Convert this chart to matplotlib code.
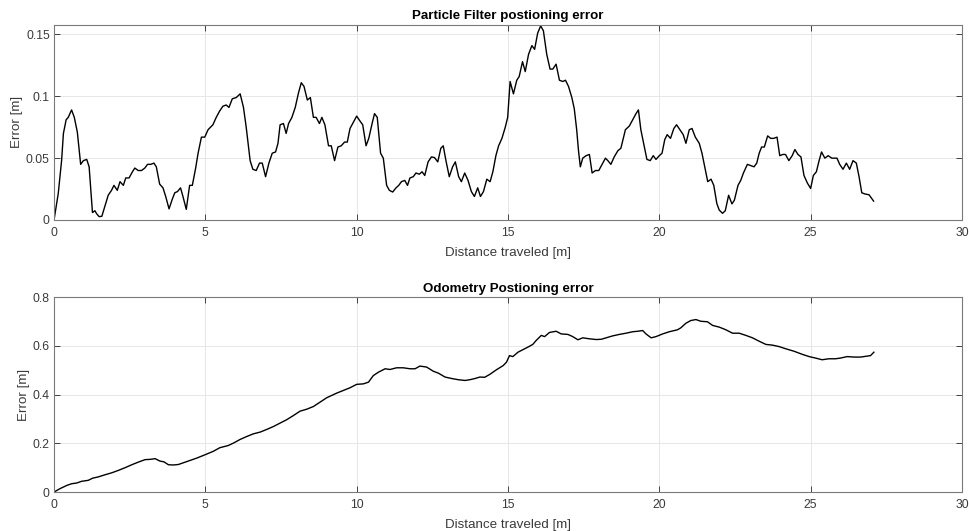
import numpy as np
import matplotlib.pyplot as plt

plt.rcParams['font.family'] = ['Liberation Sans', 'DejaVu Sans']

# particle filter error
pf_x = [0, 0.14, 0.25, 0.31, 0.4, 0.47, 0.58, 0.67, 0.77, 0.88, 0.97, 1.08, 1.16, 1.27, 1.35, 1.41,
        1.49, 1.58, 1.68, 1.79, 1.9, 1.98, 2.09, 2.18, 2.29, 2.37, 2.48, 2.59, 2.67, 2.78, 2.89, 3.0,
        3.09, 3.2, 3.3, 3.38, 3.49, 3.6, 3.69, 3.8, 3.91, 3.99, 4.08, 4.18, 4.26, 4.37, 4.48, 4.57,
        4.68, 4.76, 4.87, 4.98, 5.09, 5.25, 5.36, 5.47, 5.58, 5.69, 5.78, 5.89, 6.02, 6.15, 6.26,
        6.35, 6.48, 6.57, 6.68, 6.79, 6.88, 6.99, 7.1, 7.21, 7.32, 7.4, 7.47, 7.58, 7.67, 7.75,
        7.86, 7.97, 8.08, 8.17, 8.26, 8.37, 8.47, 8.57, 8.66, 8.77, 8.85, 8.95, 9.07, 9.16, 9.27,
        9.38, 9.49, 9.6, 9.69, 9.78, 9.89, 10.0, 10.11, 10.2, 10.31, 10.4, 10.51, 10.59, 10.68,
        10.79, 10.88, 10.99, 11.08, 11.19, 11.3, 11.39, 11.48, 11.59, 11.68, 11.76, 11.87, 11.96,
        12.07, 12.16, 12.25, 12.36, 12.47, 12.57, 12.68, 12.78, 12.86, 12.95, 13.06, 13.17, 13.26,
        13.37, 13.46, 13.57, 13.68, 13.79, 13.89, 14.0, 14.09, 14.19, 14.3, 14.41, 14.5, 14.6,
        14.69, 14.8, 14.91, 14.99, 15.07, 15.18, 15.29, 15.37, 15.48, 15.57, 15.68, 15.79, 15.88,
        15.98, 16.08, 16.17, 16.28, 16.39, 16.48, 16.59, 16.7, 16.81, 16.9, 17.0, 17.11, 17.19,
        17.27, 17.33, 17.39, 17.47, 17.58, 17.69, 17.78, 17.89, 18.0, 18.11, 18.22, 18.3, 18.4,
        18.51, 18.63, 18.73, 18.88, 19.01, 19.12, 19.23, 19.31, 19.39, 19.48, 19.59, 19.7, 19.8,
        19.89, 20.0, 20.09, 20.18, 20.26, 20.37, 20.48, 20.57, 20.68, 20.79, 20.88, 20.99, 21.08,
        21.19, 21.32, 21.41, 21.5, 21.6, 21.71, 21.8, 21.9, 21.98, 22.09, 22.18, 22.29, 22.4,
        22.48, 22.6, 22.69, 22.78, 22.91, 23.02, 23.13, 23.22, 23.3, 23.38, 23.47, 23.58, 23.68,
        23.78, 23.89, 23.98, 24.08, 24.17, 24.28, 24.39, 24.48, 24.58, 24.68, 24.78, 24.89, 25.0,
        25.09, 25.19, 25.28, 25.36, 25.47, 25.58, 25.7, 25.87, 25.96, 26.07, 26.18, 26.29, 26.4,
        26.51, 26.6, 26.69, 26.8, 26.93, 27.08]
pf_err = [0, 0.0215, 0.048, 0.070, 0.081, 0.083, 0.089, 0.083, 0.071, 0.045, 0.048, 0.049, 0.043,
          0.006, 0.0075, 0.005, 0.0027, 0.003, 0.011, 0.020, 0.024, 0.028, 0.024, 0.031, 0.028,
          0.034, 0.034, 0.039, 0.042, 0.040, 0.040, 0.042, 0.045, 0.045, 0.046, 0.043, 0.029,
          0.026, 0.019, 0.009, 0.017, 0.022, 0.023, 0.026, 0.019, 0.0086, 0.028, 0.028, 0.042,
          0.054, 0.067, 0.067, 0.073, 0.077, 0.083, 0.088, 0.092, 0.093, 0.091, 0.098, 0.099,
          0.102, 0.091, 0.075, 0.048, 0.041, 0.040, 0.046, 0.046, 0.035, 0.046, 0.054, 0.055,
          0.062, 0.077, 0.078, 0.070, 0.078, 0.083, 0.091, 0.103, 0.111, 0.108, 0.097, 0.099,
          0.083, 0.083, 0.078, 0.083, 0.077, 0.060, 0.060, 0.048, 0.059, 0.060, 0.063, 0.063,
          0.074, 0.079, 0.084, 0.080, 0.077, 0.060, 0.066, 0.078, 0.086, 0.083, 0.054, 0.050,
          0.028, 0.024, 0.0226, 0.026, 0.028, 0.031, 0.032, 0.028, 0.034, 0.035, 0.038, 0.037,
          0.039, 0.036, 0.047, 0.051, 0.0505, 0.047, 0.058, 0.060, 0.048, 0.035, 0.043, 0.047,
          0.035, 0.031, 0.038, 0.032, 0.023, 0.019, 0.026, 0.019, 0.023, 0.033, 0.031, 0.039,
          0.052, 0.060, 0.066, 0.075, 0.083, 0.112, 0.102, 0.113, 0.116, 0.128, 0.120, 0.134,
          0.141, 0.138, 0.151, 0.157, 0.153, 0.134, 0.122, 0.122, 0.126, 0.113, 0.112, 0.113,
          0.108, 0.099, 0.090, 0.073, 0.056, 0.043, 0.050, 0.052, 0.053, 0.038, 0.040, 0.040,
          0.045, 0.050, 0.048, 0.045, 0.051, 0.056, 0.058, 0.073, 0.076, 0.081, 0.086, 0.089,
          0.073, 0.062, 0.049, 0.048, 0.052, 0.049, 0.052, 0.054, 0.065, 0.069, 0.066, 0.074,
          0.077, 0.073, 0.069, 0.062, 0.073, 0.074, 0.067, 0.062, 0.054, 0.043, 0.031, 0.033,
          0.028, 0.0134, 0.008, 0.0054, 0.0075, 0.020, 0.013, 0.016, 0.028, 0.032, 0.038, 0.045,
          0.044, 0.043, 0.046, 0.054, 0.059, 0.059, 0.068, 0.066, 0.066, 0.067, 0.052, 0.053,
          0.053, 0.048, 0.052, 0.057, 0.053, 0.051, 0.036, 0.030, 0.0255, 0.036, 0.039, 0.048,
          0.055, 0.050, 0.052, 0.050, 0.050, 0.045, 0.041, 0.046, 0.041, 0.048, 0.046, 0.035,
          0.022, 0.021, 0.0204, 0.0153]

# odometry error
od_x = [0, 0.2, 0.42, 0.58, 0.75, 0.91, 1.13, 1.28, 1.46, 1.69, 1.91, 2.13, 2.35, 2.57, 2.79, 3.01,
        3.17, 3.34, 3.5, 3.63, 3.78, 3.94, 4.11, 4.27, 4.49, 4.71, 5.01, 5.26, 5.48, 5.76, 5.93,
        6.15, 6.37, 6.59, 6.81, 7.03, 7.25, 7.47, 7.69, 7.91, 8.13, 8.35, 8.57, 8.79, 9.01, 9.17,
        9.34, 9.56, 9.78, 10.0, 10.22, 10.39, 10.55, 10.72, 10.94, 11.1, 11.32, 11.54, 11.76,
        11.93, 12.09, 12.31, 12.53, 12.7, 12.92, 13.14, 13.36, 13.58, 13.74, 13.91, 14.07, 14.23,
        14.4, 14.62, 14.84, 14.95, 15.05, 15.16, 15.33, 15.49, 15.66, 15.82, 15.93, 16.1, 16.21,
        16.37, 16.59, 16.76, 16.98, 17.14, 17.31, 17.47, 17.69, 17.91, 18.08, 18.24, 18.46, 18.68,
        18.9, 19.12, 19.29, 19.45, 19.56, 19.73, 19.89, 20.11, 20.33, 20.6, 20.71, 20.88, 21.04,
        21.21, 21.37, 21.59, 21.76, 21.98, 22.2, 22.42, 22.64, 22.86, 23.08, 23.3, 23.52, 23.74,
        23.96, 24.18, 24.45, 24.73, 24.95, 25.16, 25.38, 25.6, 25.82, 25.99, 26.21, 26.43, 26.65,
        26.87, 26.98, 27.09]
od_err = [0, 0.014, 0.027, 0.034, 0.037, 0.044, 0.048, 0.057, 0.062, 0.071, 0.079, 0.089, 0.100,
          0.112, 0.123, 0.133, 0.134, 0.137, 0.127, 0.124, 0.112, 0.111, 0.113, 0.120, 0.130,
          0.139, 0.154, 0.167, 0.182, 0.191, 0.201, 0.216, 0.228, 0.239, 0.246, 0.257, 0.269,
          0.283, 0.297, 0.314, 0.332, 0.340, 0.351, 0.369, 0.387, 0.396, 0.406, 0.417, 0.428,
          0.442, 0.444, 0.451, 0.478, 0.492, 0.506, 0.503, 0.510, 0.510, 0.506, 0.506, 0.517,
          0.513, 0.496, 0.488, 0.472, 0.466, 0.461, 0.458, 0.461, 0.466, 0.472, 0.471, 0.483,
          0.502, 0.519, 0.533, 0.560, 0.556, 0.574, 0.584, 0.595, 0.606, 0.622, 0.643, 0.638,
          0.655, 0.660, 0.649, 0.647, 0.638, 0.625, 0.633, 0.629, 0.626, 0.627, 0.633, 0.641,
          0.647, 0.652, 0.658, 0.660, 0.663, 0.649, 0.633, 0.638, 0.649, 0.658, 0.666, 0.674,
          0.693, 0.704, 0.708, 0.701, 0.699, 0.684, 0.677, 0.666, 0.652, 0.652, 0.643, 0.633,
          0.619, 0.606, 0.603, 0.597, 0.588, 0.578, 0.565, 0.556, 0.550, 0.543, 0.547, 0.547,
          0.550, 0.556, 0.554, 0.554, 0.558, 0.560, 0.574]

x_ticks = [0, 5, 10, 15, 20, 25, 30]
pf_yticks = [0, 0.05, 0.1, 0.15]
pf_ylabels = ['0', '0.05', '0.1', '0.15']
od_yticks = [0, 0.2, 0.4, 0.6, 0.8]
od_ylabels = ['0', '0.2', '0.4', '0.6', '0.8']

axcol = '#262626'
fig = plt.figure(figsize=(9.7, 5.31), dpi=100)
ax1 = fig.add_axes([0.0557, 0.5857, 0.936, 0.368])
ax2 = fig.add_axes([0.0557, 0.0734, 0.936, 0.367])


def style(ax, yt, yl, ylim, title):
    ax.set_xlim(0, 30)
    ax.set_ylim(*ylim)
    ax.set_xticks(x_ticks)
    ax.set_xticklabels([str(t) for t in x_ticks])
    ax.set_yticks(yt)
    ax.set_yticklabels(yl)
    ax.grid(True, color='#e3e3e3', linewidth=0.6)
    ax.set_axisbelow(True)
    ax.tick_params(direction='in', top=True, right=True, length=4, width=0.6,
                   colors=axcol, labelsize=8.8, labelcolor='#3a3a3a')
    ax.tick_params(axis='x', pad=5)
    ax.tick_params(axis='y', pad=3)
    for s in ax.spines.values():
        s.set_color('#7a7a7a')
        s.set_linewidth(0.8)
    ax.set_xlabel('Distance traveled [m]', fontsize=9.6, color='#3a3a3a', labelpad=5.5)
    ax.set_ylabel('Error [m]', fontsize=9.6, color='#3a3a3a', labelpad=2)
    ax.set_title(title, fontsize=9.6, fontweight='bold', pad=4)


ax1.plot(pf_x, pf_err, color='black', linewidth=1.0)
style(ax1, pf_yticks, pf_ylabels, (0, 0.158), 'Particle Filter postioning error')

ax2.plot(od_x, od_err, color='black', linewidth=1.0)
style(ax2, od_yticks, od_ylabels, (0, 0.8), 'Odometry Postioning error')

fig.savefig('out.png', dpi=100)
